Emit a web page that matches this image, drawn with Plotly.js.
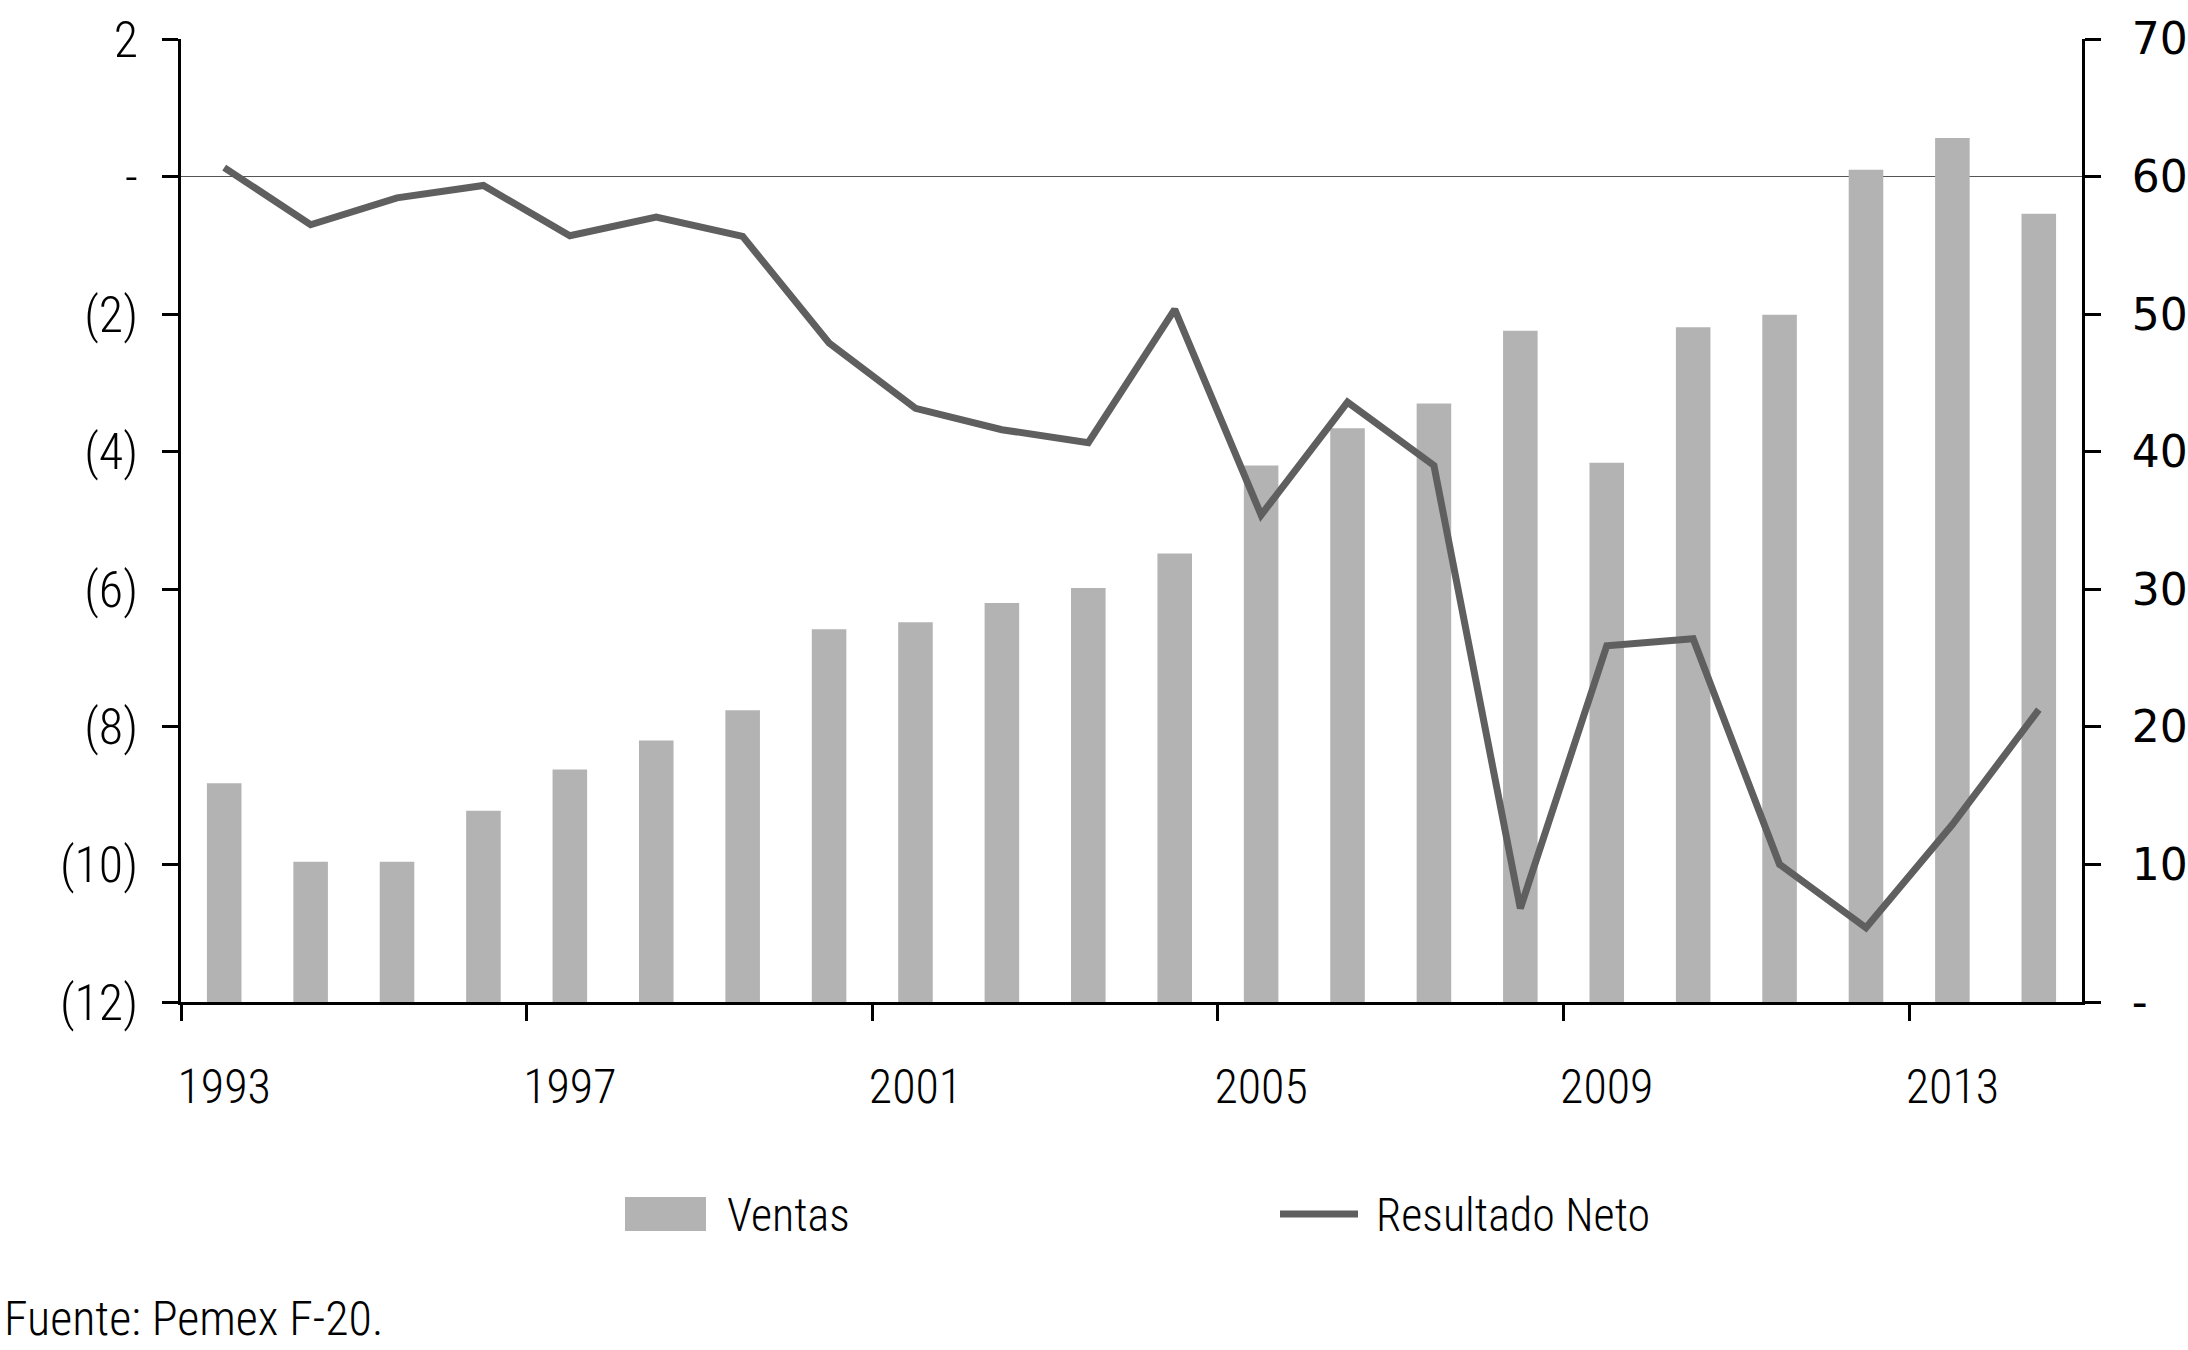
<!DOCTYPE html>
<html>
<head>
<meta charset="utf-8">
<script src="https://cdn.plot.ly/plotly-3.0.1.min.js"></script>
<style>
html, body { margin: 0; padding: 0; background: #ffffff; }
#chart { width: 2188px; height: 1350px; }
#chart .xtick text, #chart .y2tick text, #chart .annotation-text { font-stretch: condensed; }
</style>
</head>
<body>
<div id="chart"></div>
<script>
// ---- Data ----
const years = ['1993','1994','1995','1996','1997','1998','1999','2000','2001','2002','2003',
               '2004','2005','2006','2007','2008','2009','2010','2011','2012','2013','2014'];
const ventas = [15.9, 10.2, 10.2, 13.9, 16.9, 19.0, 21.2, 27.1, 27.6, 29.0, 30.1,
                32.6, 39.0, 41.7, 43.5, 48.8, 39.2, 49.05, 49.95, 60.5, 62.8, 57.3];
const resultadoNeto = [0.13, -0.70, -0.31, -0.13, -0.86, -0.59, -0.87, -2.42, -3.37, -3.68, -3.87,
                       -1.93, -4.92, -3.28, -4.20, -10.64, -6.82, -6.72, -10.0, -10.92, -9.42, -7.75];
const leftTickVals = [-12, -10, -8, -6, -4, -2, 0, 2];
const leftTickText = ['(12)', '(10)', '(8)', '(6)', '(4)', '(2)', '-', '2'];
const rightTickVals = [0, 10, 20, 30, 40, 50, 60, 70];
const rightTickText = ['-', '10', '20', '30', '40', '50', '60', '70'];
const legendLabels = ['Ventas', 'Resultado Neto'];
const sourceNote = 'Fuente: Pemex F-20.';

// ---- Styles ----
const narrow = '"Liberation Sans Narrow", "Arial Narrow", "Roboto Condensed", "Open Sans Condensed", "Noto Sans", Roboto, sans-serif';
const wide = '"DejaVu Sans", "Open Sans", sans-serif';
const barColor = '#b3b3b3';
const lineColor = '#5f5f5f';

const traces = [
  {
    type: 'bar', name: legendLabels[0], x: years, y: ventas,
    xaxis: 'x', yaxis: 'y',
    marker: { color: barColor, line: { width: 0 } },
    hoverinfo: 'x+y'
  },
  {
    type: 'scatter', mode: 'lines', name: legendLabels[1], x: years, y: resultadoNeto,
    xaxis: 'x', yaxis: 'y2',
    line: { color: lineColor, width: 7 },
    hoverinfo: 'x+y'
  }
];

const layout = {
  width: 2188, height: 1350,
  paper_bgcolor: '#ffffff', plot_bgcolor: '#ffffff',
  margin: { l: 181, r: 106, t: 39, b: 348, pad: 0 },
  showlegend: false,
  bargap: 0.6,
  font: { family: narrow, color: '#000000', size: 50, weight: 300 },
  xaxis: {
    type: 'category',
    range: [-0.5, 21.5],
    tickmode: 'linear', tick0: 0, dtick: 4,
    tickson: 'boundaries',
    tickangle: 0,
    ticks: 'outside', ticklen: 16, tickwidth: 3, tickcolor: '#000000',
    showline: true, linecolor: '#000000', linewidth: 3,
    showgrid: false, zeroline: false,
    tickfont: { family: narrow, size: 48, color: '#000000', weight: 300 },
    ticklabelstandoff: 40,
    fixedrange: true
  },
  yaxis: {
    side: 'right',
    range: [0, 70],
    tickmode: 'array', tickvals: rightTickVals, ticktext: rightTickText,
    ticks: 'outside', ticklen: 16, tickwidth: 3, tickcolor: '#000000',
    showline: true, linecolor: '#000000', linewidth: 3,
    showgrid: false, zeroline: false,
    tickfont: { family: wide, size: 44, color: '#000000', weight: 400 },
    ticklabelstandoff: 22,
    fixedrange: true
  },
  yaxis2: {
    side: 'left', overlaying: 'y',
    range: [-12, 2],
    tickmode: 'array', tickvals: leftTickVals, ticktext: leftTickText,
    ticks: 'outside', ticklen: 16, tickwidth: 3, tickcolor: '#000000',
    showline: true, linecolor: '#000000', linewidth: 3,
    showgrid: false,
    zeroline: true, zerolinecolor: '#555555', zerolinewidth: 1.2,
    tickfont: { family: narrow, size: 50, color: '#000000', weight: 300 },
    ticklabelstandoff: 14,
    fixedrange: true
  },
  shapes: [
    // legend swatch: bars
    { type: 'rect', xref: 'paper', yref: 'paper',
      x0: (625 - 181) / 1901, x1: (706 - 181) / 1901,
      y0: -(1231 - 1002) / 963, y1: -(1197 - 1002) / 963,
      fillcolor: barColor, line: { width: 0 } },
    // legend swatch: line
    { type: 'line', xref: 'paper', yref: 'paper',
      x0: (1280 - 181) / 1901, x1: (1358 - 181) / 1901,
      y0: -(1214 - 1002) / 963, y1: -(1214 - 1002) / 963,
      line: { color: lineColor, width: 7 } }
  ],
  annotations: [
    { xref: 'paper', yref: 'paper', x: (726 - 181) / 1901, y: -(1215 - 1002) / 963,
      xanchor: 'left', yanchor: 'middle', showarrow: false, borderpad: 0,
      text: legendLabels[0], font: { family: narrow, size: 46, color: '#000000', weight: 300 } },
    { xref: 'paper', yref: 'paper', x: (1375 - 181) / 1901, y: -(1215 - 1002) / 963,
      xanchor: 'left', yanchor: 'middle', showarrow: false, borderpad: 0,
      text: legendLabels[1], font: { family: narrow, size: 46, color: '#000000', weight: 300 } },
    { xref: 'paper', yref: 'paper', x: -178 / 1901, y: -(1318 - 1002) / 963,
      xanchor: 'left', yanchor: 'middle', showarrow: false, borderpad: 0,
      text: sourceNote, font: { family: narrow, size: 48, color: '#000000', weight: 300 } }
  ]
};

Plotly.newPlot('chart', traces, layout, { displayModeBar: false, staticPlot: true });
</script>
</body>
</html>
